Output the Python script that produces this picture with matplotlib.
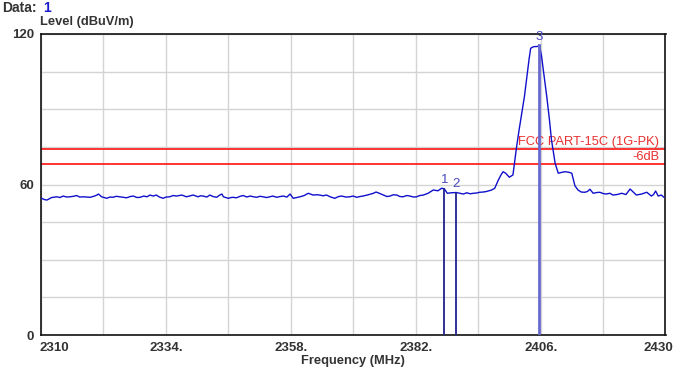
import matplotlib
matplotlib.use("Agg")
import matplotlib.pyplot as plt
from matplotlib.transforms import blended_transform_factory, offset_copy

plt.rcParams['font.family'] = ['Liberation Sans', 'DejaVu Sans']

# ---- data ----
freq = [2310.2, 2310.7, 2311.2, 2312.1, 2313.1, 2313.7, 2314.3, 2315.0, 2315.6, 2316.3,
        2316.9, 2317.5, 2318.2, 2319.5, 2320.2, 2320.8, 2321.1, 2321.7, 2322.7, 2323.3,
        2323.9, 2324.5, 2325.2, 2326.5, 2327.2, 2327.8, 2328.5, 2329.1, 2329.8, 2330.4,
        2331.0, 2331.6, 2332.2, 2332.8, 2333.5, 2334.1, 2334.8, 2335.4, 2336.1, 2337.1,
        2338.0, 2338.7, 2339.3, 2340.2, 2340.7, 2341.2, 2341.9, 2342.5, 2343.1, 2343.8,
        2344.4, 2344.8, 2345.1, 2346.0, 2346.8, 2347.6, 2348.3, 2348.9, 2349.6, 2350.2,
        2350.9, 2351.5, 2352.1, 2352.7, 2353.4, 2354.0, 2354.6, 2355.3, 2356.0, 2356.6,
        2357.3, 2357.9, 2358.5, 2359.2, 2359.8, 2360.6, 2361.4, 2362.3, 2363.0, 2363.6,
        2364.2, 2364.9, 2365.7, 2366.5, 2367.2, 2367.8, 2368.6, 2369.4, 2370.0, 2370.7,
        2371.3, 2371.9, 2372.9, 2373.9, 2374.4, 2374.8, 2375.8, 2376.5, 2377.1, 2377.7,
        2378.4, 2379.0, 2379.6, 2380.3, 2380.9, 2381.6, 2382.2, 2382.8, 2383.5, 2384.4,
        2385.4, 2386.3, 2387.0, 2387.5, 2388.1, 2388.9, 2389.8, 2390.5, 2391.2, 2391.8,
        2392.5, 2393.1, 2393.7, 2394.3, 2395.0, 2395.6, 2396.1, 2396.6, 2397.2, 2397.9,
        2398.4, 2398.8, 2399.3, 2400.0, 2400.7, 2401.4, 2401.9, 2402.4, 2402.9, 2403.3,
        2403.8, 2404.1, 2404.5, 2404.9, 2405.4, 2405.8, 2406.2, 2406.7, 2407.2, 2407.7,
        2408.1, 2408.8, 2409.4, 2410.0, 2410.7, 2411.4, 2412.0, 2412.6, 2413.2, 2413.8,
        2414.5, 2415.0, 2415.5, 2416.1, 2416.8, 2417.4, 2418.0, 2418.6, 2419.3, 2419.9,
        2420.7, 2421.6, 2422.4, 2423.2, 2423.8, 2424.4, 2425.4, 2426.4, 2427.3, 2427.7,
        2428.1, 2428.6, 2429.2, 2429.7]
level = [54.5, 54.0, 53.8, 54.8, 55.1, 54.8, 55.4, 55.0, 55.1, 55.3,
         55.6, 55.0, 55.1, 54.9, 55.3, 55.8, 56.2, 55.1, 54.5, 55.0,
         54.9, 55.3, 55.1, 54.7, 55.2, 55.4, 54.8, 54.9, 55.4, 55.1,
         55.8, 55.4, 55.8, 55.0, 54.5, 55.0, 55.1, 55.6, 55.4, 55.8,
         55.1, 55.5, 55.8, 55.1, 55.5, 55.4, 55.0, 55.8, 55.2, 54.9,
         55.8, 56.2, 55.1, 54.5, 54.9, 54.7, 55.3, 55.6, 55.0, 55.4,
         55.1, 54.9, 55.3, 55.1, 54.8, 55.1, 55.4, 54.9, 55.2, 55.4,
         55.0, 56.2, 54.5, 54.8, 55.1, 55.6, 56.5, 55.8, 55.9, 55.8,
         55.5, 55.8, 55.0, 54.5, 55.2, 55.4, 55.0, 55.1, 55.4, 54.9,
         55.2, 55.4, 55.9, 56.5, 57.0, 56.7, 55.8, 55.2, 55.4, 55.9,
         55.8, 55.2, 55.1, 55.6, 55.4, 55.0, 55.1, 55.6, 55.8, 56.5,
         57.8, 57.5, 58.5, 58.3, 56.5, 56.7, 56.8, 56.5, 56.2, 56.7,
         56.3, 56.5, 56.6, 56.9, 57.0, 57.2, 57.5, 57.8, 58.5, 61.8,
         63.8, 65.1, 64.5, 62.9, 63.8, 75.0, 82.0, 88.4, 95.0, 101.7,
         110.0, 114.3, 114.8, 115.0, 115.0, 115.5, 111.0, 103.0, 95.0, 86.0,
         77.8, 68.5, 64.5, 64.8, 65.1, 64.9, 64.5, 59.5, 57.8, 57.0,
         56.9, 57.2, 58.1, 56.5, 56.8, 56.9, 56.4, 56.2, 56.5, 55.8,
         56.0, 56.5, 56.0, 58.2, 57.0, 55.8, 56.2, 56.9, 55.4, 56.0,
         57.4, 55.4, 55.8, 54.9]

marker_freq = [2387.5, 2389.8, 2405.8]
marker_level = [58.3, 56.8, 115.5]
marker_names = ["1", "2", "3"]

limit_peak = 74.0
limit_margin = 68.0

x_grid = list(range(2310, 2431, 12))
y_grid = list(range(0, 121, 15))
x_labels = [2310, 2334, 2358, 2382, 2406, 2430]
x_label_text = ["2310", "2334.", "2358.", "2382.", "2406.", "2430"]
y_labels = {0: "0", 60: "60", 120: "120"}

# ---- figure ----
W, H = 676, 374
fig = plt.figure(figsize=(W / 100, H / 100), dpi=100)
fig.patch.set_facecolor("white")
x0, x1, y0, y1 = 40.7, 665.5, 34, 335
ax = fig.add_axes([x0 / W, 1 - y1 / H, (x1 - x0) / W, (y1 - y0) / H])
ax.set_xlim(2310, 2430)
ax.set_ylim(0, 120)

ax.set_xticks(x_grid)
ax.set_xticklabels([])
ax.set_yticks(y_grid)
ax.set_yticklabels([y_labels.get(v, "") for v in y_grid],
                   fontsize=9.5, fontweight="bold", color="#333333")
ax.tick_params(length=0, pad=5)
ax.grid(True, color="#d4d4d4", lw=1)
ax.set_axisbelow(True)
for s in ax.spines.values():
    s.set_color("#111111")
    s.set_linewidth(1.2)

# x tick labels
trans = blended_transform_factory(ax.transData, ax.transAxes)
for i, (xv, t) in enumerate(zip(x_labels, x_label_text)):
    if i == 0:
        ha, dx = "left", -1
    elif i == len(x_labels) - 1:
        ha, dx = "center", -7
    else:
        ha, dx = "center", 1
    tr = offset_copy(trans, fig=fig, x=dx, y=-13, units="dots")
    ax.text(xv, 0, t, transform=tr, ha=ha, va="center", fontsize=9.5,
            fontweight="bold", color="#333333")

# limit lines
ax.axhline(limit_peak, color="#ff1010", lw=1.2, zorder=2)
ax.axhline(limit_margin, color="#ff1010", lw=1.2, zorder=2)
tr_r = offset_copy(ax.transData, fig=fig, x=-6, y=0, units="dots")
ax.text(2430, 76.8, "FCC PART-15C (1G-PK)", transform=tr_r, ha="right", va="center",
        fontsize=9.3, color="#e83030")
ax.text(2430, 71.0, "-6dB", transform=tr_r, ha="right", va="center",
        fontsize=9.3, color="#e83030")

# trace
ax.plot(freq, level, color="#1010cc", lw=1.0, zorder=3)

# markers
mcolors = ["#202090", "#202090", "#6868d0"]
mwidths = [1.3, 1.3, 2.0]
for f, l, n, c, w in zip(marker_freq, marker_level, marker_names, mcolors, mwidths):
    ax.plot([f, f], [0, l], color=c, lw=w, zorder=4)
    ax.annotate(n, (f, l), xytext=(0, 2), textcoords="offset points",
                ha="center", va="bottom", fontsize=9.5, color="#4848c0", zorder=5,
                annotation_clip=False)

# titles
fig.text(2 / W, 1 - 8 / H, "Data:", ha="left", va="center", fontsize=10,
         fontweight="bold", color="#333333")
fig.text(43 / W, 1 - 8 / H, "1", ha="left", va="center", fontsize=10,
         fontweight="bold", color="#1a1ad0")
fig.text(40 / W, 1 - 22 / H, "Level (dBuV/m)", ha="left", va="center", fontsize=9.3,
         fontweight="bold", color="#333333")
fig.text(353 / W, 1 - 361 / H, "Frequency (MHz)", ha="center", va="center",
         fontsize=9.3, fontweight="bold", color="#333333")

fig.savefig("out.png", dpi=100, facecolor="white")
